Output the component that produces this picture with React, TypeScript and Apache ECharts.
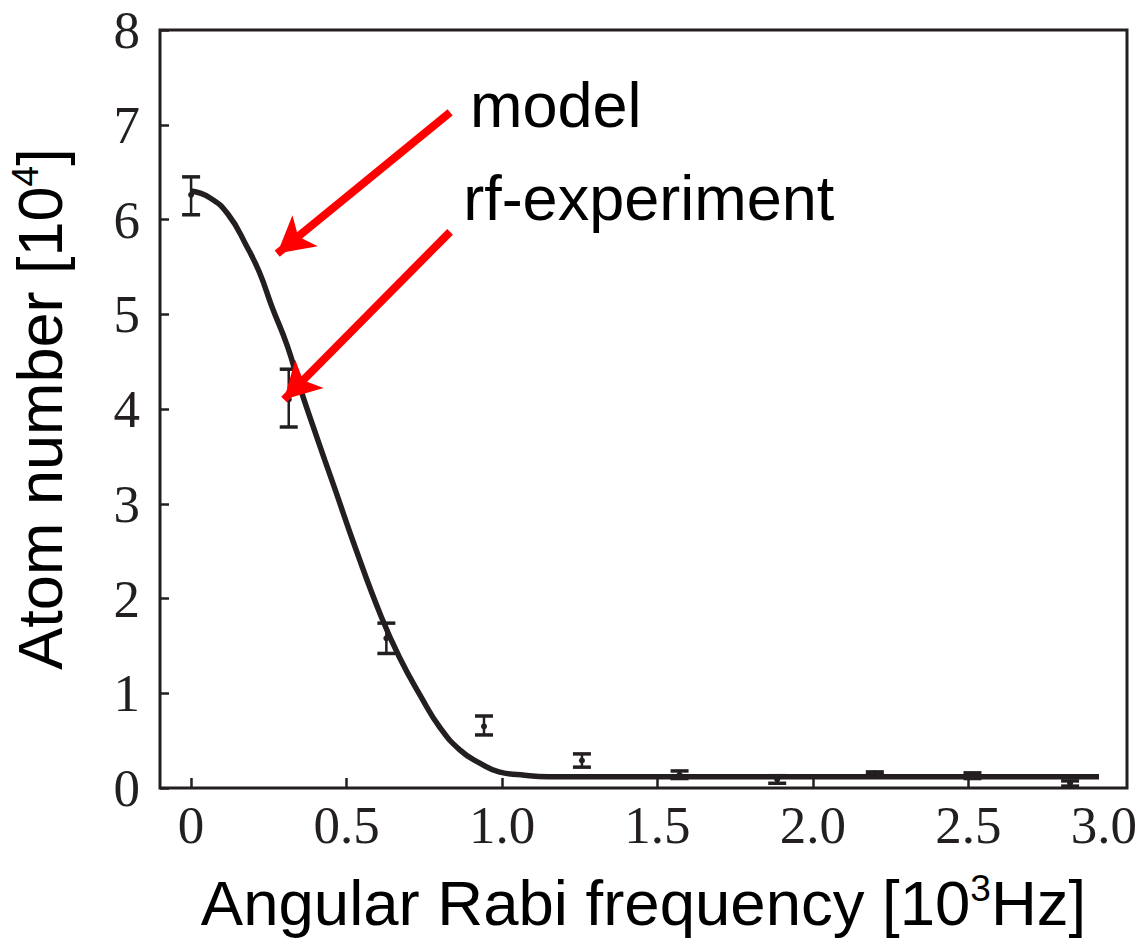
import React, { useEffect, useRef } from "react";
import * as echarts from "echarts";

// Model curve
const modelX = [0, 0.06, 0.12, 0.18, 0.22, 0.26, 0.31, 0.35, 0.39, 0.43, 0.46, 0.53, 0.61, 0.67, 0.74, 0.8, 0.865, 0.93, 0.99, 1.06, 1.15, 1.5, 2.0, 2.5, 2.92];
const modelY = [6.3, 6.23, 6.05, 5.71, 5.44, 5.08, 4.66, 4.23, 3.84, 3.46, 3.18, 2.52, 1.82, 1.38, 0.96, 0.64, 0.4, 0.26, 0.17, 0.14, 0.12, 0.12, 0.12, 0.12, 0.12];

// rf-experiment points with error bars
const expX = [0, 0.314, 0.628, 0.942, 1.257, 1.571, 1.885, 2.199, 2.513, 2.827];
const expY = [6.26, 4.1, 1.58, 0.65, 0.29, 0.14, 0.09, 0.155, 0.13, 0.05];
const expLow = [6.05, 3.81, 1.42, 0.56, 0.22, 0.1, 0.05, 0.14, 0.1, 0.02];
const expHigh = [6.45, 4.42, 1.74, 0.76, 0.36, 0.18, 0.13, 0.17, 0.16, 0.075];

const xTickValues = [0, 0.5, 1, 1.5, 2, 2.5];
const xLabelValues = [0, 0.5, 1, 1.5, 2, 2.5, 3];

const annotationTexts = ["model", "rf-experiment"];
const annotationX = [0.897, 0.875];
const annotationY = [7.21, 6.23];

const arrowStart = [[0.833, 7.13], [0.833, 5.87]];
const arrowEnd = [[0.277, 5.64], [0.299, 4.1]];

const INK = "#231f20";
const SERIF = "'Liberation Serif', 'Times New Roman', serif";
const SANS = "'Liberation Sans', Arial, sans-serif";

export default function App() {
  const ref = useRef<HTMLDivElement>(null);
  useEffect(() => {
    if (!ref.current) return;
    const chart = echarts.init(ref.current, null, { renderer: "svg" });
    const option: any = {
      animation: false,
      backgroundColor: "#ffffff",
      grid: {
        left: 160,
        right: 12,
        top: 30,
        bottom: 162,
        containLabel: false,
        outerBoundsMode: "none",
        show: true,
        borderColor: INK,
        borderWidth: 3,
      },
      xAxis: {
        type: "value",
        min: -0.1,
        max: 3.01,
        name: "Angular Rabi frequency [10{sup|3}Hz]",
        nameLocation: "middle",
        nameGap: 82,
        nameMoveOverlap: false,
        nameTextStyle: {
          fontFamily: SANS,
          fontSize: 63.5,
          color: "#000",
          rich: {
            sup: { fontFamily: SANS, fontSize: 37, color: "#000", verticalAlign: "top", padding: [0, 0, 28, 0] },
          },
        },
        splitLine: { show: false },
        axisLine: { show: false, onZero: false },
        axisTick: {
          show: true,
          inside: true,
          length: 10,
          lineStyle: { color: INK, width: 2.5 },
          customValues: xTickValues,
        },
        axisLabel: {
          customValues: xLabelValues,
          margin: 10,
          fontFamily: SERIF,
          fontSize: 53,
          color: INK,
          hideOverlap: false,
          formatter: (v: number) => (v === 0 ? "0" : v === 3 ? "{last|3.0}" : v.toFixed(1)),
          rich: {
            last: { fontFamily: SERIF, fontSize: 53, color: INK, padding: [0, 40, 0, 0] },
          },
        },
      },
      yAxis: {
        type: "value",
        min: 0,
        max: 8,
        interval: 1,
        name: "Atom number [10{sup|4}]",
        nameLocation: "middle",
        nameGap: 88,
        nameRotate: 90,
        nameMoveOverlap: false,
        nameTextStyle: {
          fontFamily: SANS,
          fontSize: 63,
          color: "#000",
          rich: {
            sup: { fontFamily: SANS, fontSize: 37, color: "#000", verticalAlign: "top", padding: [0, 0, 28, 0] },
          },
        },
        splitLine: { show: false },
        axisLine: { show: false, onZero: false },
        axisTick: { show: true, inside: true, length: 9, lineStyle: { color: INK, width: 2.5 } },
        axisLabel: { margin: 20, fontFamily: SERIF, fontSize: 53, color: INK },
      },
      series: [
        {
          type: "line",
          name: "model",
          data: modelX.map((x, i) => [x, modelY[i]]),
          smooth: true,
          showSymbol: false,
          lineStyle: { color: INK, width: 5.5 },
          z: 3,
          markLine: {
            silent: true,
            symbol: ["none", "arrow"],
            symbolSize: [30, 36],
            label: { show: false },
            lineStyle: { color: "#ff0000", width: 8, type: "solid" },
            emphasis: { disabled: true },
            data: arrowStart.map((s, i) => [{ coord: s }, { coord: arrowEnd[i] }]),
          },
          markPoint: {
            silent: true,
            symbol: "circle",
            symbolSize: 0,
            data: annotationTexts.map((t, i) => ({
              coord: [annotationX[i], annotationY[i]],
              value: t,
              label: {
                show: true,
                position: "right",
                distance: 0,
                formatter: t,
                fontFamily: SANS,
                fontSize: 63,
                color: "#000",
              },
            })),
          },
        },
        {
          type: "custom",
          name: "rf-experiment",
          data: expX.map((x, i) => [x, expY[i], expLow[i], expHigh[i]]),
          z: 4,
          renderItem: (params: any, api: any) => {
            const x = api.value(0);
            const y = api.value(1);
            const lo = api.value(2);
            const hi = api.value(3);
            const pHi = api.coord([x, hi]);
            const pLo = api.coord([x, lo]);
            const p = api.coord([x, y]);
            const w = 9;
            return {
              type: "group",
              children: [
                { type: "line", shape: { x1: pHi[0], y1: pHi[1], x2: pLo[0], y2: pLo[1] }, style: { stroke: INK, lineWidth: 2.5 } },
                { type: "line", shape: { x1: pHi[0] - w, y1: pHi[1], x2: pHi[0] + w, y2: pHi[1] }, style: { stroke: INK, lineWidth: 3.5 } },
                { type: "line", shape: { x1: pLo[0] - w, y1: pLo[1], x2: pLo[0] + w, y2: pLo[1] }, style: { stroke: INK, lineWidth: 3.5 } },
                { type: "circle", shape: { cx: p[0], cy: p[1], r: 3 }, style: { fill: INK } },
              ],
            };
          },
        },
      ],
    };
    chart.setOption(option);
    return () => chart.dispose();
  }, []);
  return (
    <div
      ref={ref}
      style={{ position: "absolute", left: 0, top: 0, width: 1139, height: 950, background: "#fff" }}
    />
  );
}
